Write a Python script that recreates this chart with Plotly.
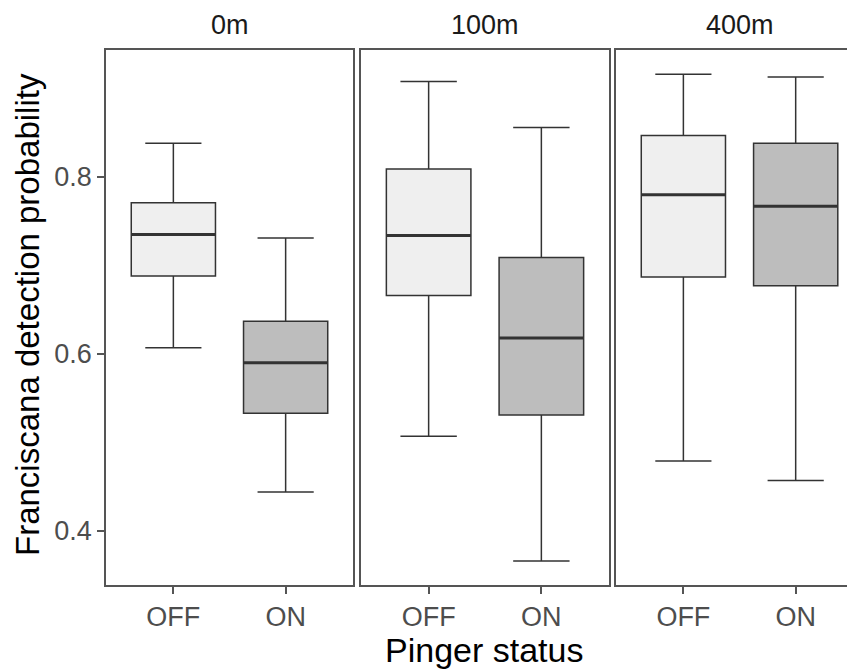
import plotly.graph_objects as go

panels = ["0m", "100m", "400m"]
status = ["OFF", "ON"]
positions = [1, 2]
lower = [[0.607, 0.444], [0.507, 0.366], [0.479, 0.457]]
q1 = [[0.688, 0.533], [0.666, 0.531], [0.687, 0.677]]
median = [[0.735, 0.590], [0.734, 0.618], [0.780, 0.767]]
q3 = [[0.771, 0.637], [0.809, 0.709], [0.847, 0.838]]
upper = [[0.838, 0.731], [0.908, 0.856], [0.916, 0.913]]
fills = ["#EFEFEF", "#BDBDBD"]
yticks = [0.4, 0.6, 0.8]

BOXW = 0.75
OFF = 8  # page body margin
W, H = 855 - OFF, 669 - OFF
ML, MT = 106 - OFF, 50 - OFF
PB = 585 - OFF  # plot bottom in figure px
MB = H - PB
plot_w = W - ML
plot_h = PB - MT

# panel pixel extents (figure coordinates)
px = [(106 - OFF, 353 - OFF), (361 - OFF, 609 - OFF), (616 - OFF, W)]
ppu = 112.3
domains = [[(a - ML) / plot_w, (b - ML) / plot_w] for a, b in px]
xranges = [[0.4, 2.6], [0.4, 2.6], [0.4, 0.4 + (px[2][1] - px[2][0]) / ppu]]

fig = go.Figure()
line_c = "#333333"
border_c = "#555555"
font = "Liberation Sans, Arial, sans-serif"

for p in range(3):
    xa = "x" if p == 0 else f"x{p+1}"
    ya = "y" if p == 0 else f"y{p+1}"
    for s in range(2):
        fig.add_trace(go.Box(
            x=[positions[s]], q1=[q1[p][s]], median=[median[p][s]], q3=[q3[p][s]],
            lowerfence=[lower[p][s]], upperfence=[upper[p][s]],
            width=BOXW, whiskerwidth=0.667, boxpoints=False,
            fillcolor=fills[s], line=dict(color=line_c, width=1.5),
            xaxis=xa, yaxis=ya, showlegend=False, hoverinfo="skip"))
        fig.add_trace(go.Scatter(
            x=[positions[s] - BOXW / 2, positions[s] + BOXW / 2],
            y=[median[p][s], median[p][s]], mode="lines",
            line=dict(color=line_c, width=3), xaxis=xa, yaxis=ya,
            showlegend=False, hoverinfo="skip"))

yrange = [0.339, 0.9435]
for p in range(3):
    sfx = "" if p == 0 else str(p + 1)
    fig.layout["xaxis" + sfx] = dict(
        domain=domains[p], range=xranges[p], tickvals=positions, ticktext=status,
        ticks="outside", ticklen=7, tickwidth=1.5, tickcolor=border_c,
        showline=True, linecolor=border_c, linewidth=1.8, mirror=True,
        showgrid=False, zeroline=False, anchor="y" + sfx,
        tickfont=dict(family=font, size=27, color="#4D4D4D"))
    fig.layout["yaxis" + sfx] = dict(
        domain=[0, 1], range=yrange, tickvals=yticks,
        ticktext=[f"{v:.1f}" for v in yticks],
        showticklabels=(p == 0), ticks="outside" if p == 0 else "",
        ticklen=7, tickwidth=1.5, tickcolor=border_c,
        showline=True, linecolor=border_c, linewidth=1.8,
        mirror=(p < 2), showgrid=False, zeroline=False, anchor="x" + sfx,
        tickfont=dict(family=font, size=27, color="#4D4D4D"))

annotations = []
for p in range(3):
    a, b = px[p]
    if p == 2:
        b = a + 247
    cx = ((a + b) / 2 - ML) / plot_w
    annotations.append(dict(text=panels[p], x=cx, y=1 + (MT - (25.5 - OFF)) / plot_h,
                            xref="paper", yref="paper", showarrow=False,
                            xanchor="center", yanchor="middle",
                            font=dict(family=font, size=27, color="#1A1A1A")))
annotations.append(dict(text="Pinger status", x=(484.5 - OFF - ML) / plot_w,
                        y=-((650 - OFF) - PB) / plot_h, xref="paper", yref="paper",
                        showarrow=False, xanchor="center", yanchor="middle",
                        font=dict(family=font, size=34, color="#000000")))
annotations.append(dict(text="Franciscana detection probability",
                        x=((27 - OFF) - ML) / plot_w, y=(PB - (315 - OFF)) / plot_h,
                        xref="paper", yref="paper", showarrow=False, textangle=-90,
                        xanchor="center", yanchor="middle", borderpad=0,
                        font=dict(family=font, size=33, color="#000000")))

fig.update_layout(width=W, height=H, margin=dict(l=ML, r=0, t=MT, b=MB),
                  plot_bgcolor="white", paper_bgcolor="white", boxmode="overlay",
                  annotations=annotations, showlegend=False)

fig.write_html("out.html")
